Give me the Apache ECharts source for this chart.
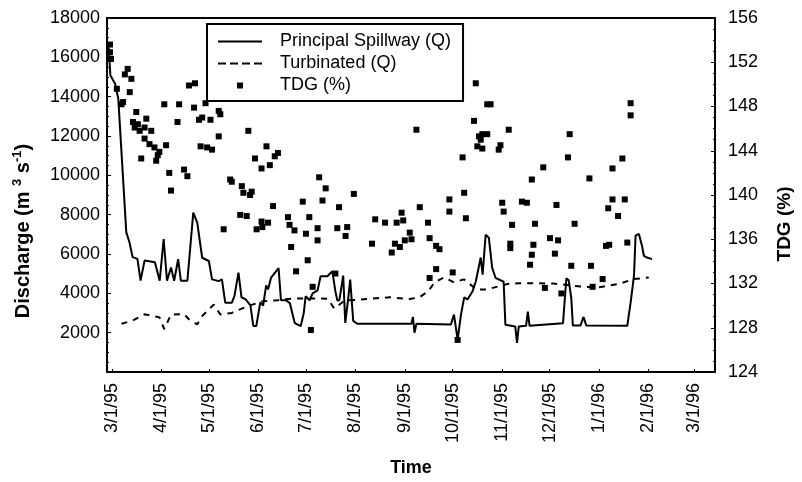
<!DOCTYPE html>
<html><head><meta charset="utf-8">
<script src="https://cdn.jsdelivr.net/npm/echarts@6/dist/echarts.min.js"></script>
<style>html,body{margin:0;padding:0;background:#fff}#c{width:802px;height:482px}</style>
</head><body><div id="c"></div>
<script>
// ---- data (x = days from 1995-03-01) ----
const monthTicks = ['1995-03-01','1995-04-01','1995-05-01','1995-06-01','1995-07-01','1995-08-01','1995-09-01','1995-10-01','1995-11-01','1995-12-01','1996-01-01','1996-02-01','1996-03-01'];

const spillDay = [-2,-1,2,4,9,11,13,16,18,20.5,27,30,32.5,34.6,37.1,39.1,41.6,43.3,47.4,51.1,53.6,56.7,60.9,62.9,67.1,69.1,71.2,75.3,77,79.5,81.4,83.9,87,88.8,90.7,93.2,95,96.9,98.1,100,104.7,106.2,109.3,111.8,114.9,118.6,120.5,121.7,124.2,126.1,129.2,131.1,135.4,138.5,140.4,141.6,142.9,145.3,146.6,148.4,149.7,151.6,154.1,188.2,189.1,190.1,191.3,213,214.9,217.2,219.3,221.3,223.4,226.5,228.6,231.7,232.9,234.8,236.8,238.9,241,246.1,247.2,253.4,254.5,255.6,260.2,261.3,262.4,283.4,285.5,287,288.6,289.6,294.4,296.3,298,323.8,325.9,328,329,331.1,333.1,334.2,336.2,339.3];
const spillQ = [16500,15090,14650,13890,7110,6600,5840,5750,4650,5665,5580,4640,6760,4640,5310,4640,5735,4640,4640,8105,7600,5810,5645,4710,4620,4710,3520,3520,3870,5050,3800,3700,3390,2340,2340,3540,3380,4400,4200,4800,5280,3650,3650,3500,2480,2330,2990,3850,3640,4000,4150,4870,4870,5120,4100,3640,3650,4900,2500,3700,4700,2600,2450,2450,2800,2000,2450,2420,2920,1650,2920,3790,3690,4090,4600,5820,4950,6980,6830,5300,4790,4590,2400,2310,1480,2310,2350,3070,2350,2480,4760,4660,3750,2370,2370,2800,2370,2355,3540,4900,6930,7020,6400,5910,5820,5740];

const turbDay = [6,13.2,20.5,29.8,32.9,37.1,45.3,48.4,53.6,56.7,64,68.1,75.3,85.7,95,104.3,113.7,135.4,139.8,146,174.7,187.1,193.2,198.6,202.8,208.7,214.9,221.1,229.2,235.1,249.1,255.5,266.9,277.2,297.3,306.2,318.6,327.9,337.3];
const turbQ = [2450,2620,2935,2780,2180,2925,2940,2680,2425,2850,3430,2925,3005,3360,3600,3650,3740,3730,3220,3625,3800,3710,3800,4100,4560,4810,4560,4710,4190,4190,4485,4515,4510,4500,4320,4310,4480,4730,4805];

const tdgDay = [-1.2,-1.2,-0.6,3.1,6,7,8.1,9.9,11.2,12.2,13.2,14.3,15.3,16.3,17.4,18.4,20.5,20.5,21.6,23.6,24.7,26.7,27.8,28.8,29.8,32.9,34,36,37.1,41.2,42.2,45.3,47.4,48.4,51.6,52.2,54.7,55.7,56.7,58.8,59.8,61.9,62.9,67.1,67.1,68.1,70.2,74.3,75.3,80.6,81.6,82.6,84.7,85.7,86.8,87.8,89.9,90.9,94,94,94.5,97.1,98.1,99.2,101.2,102.3,104.3,110.6,111.6,112.6,114.7,115.7,119.9,121.9,123,124,125,126.1,129.2,129.2,130.2,132.3,134.3,140.4,141.6,142.7,146.8,147.8,152,163.4,165.4,171.6,175.8,177.8,178.9,180.9,182,183,184,187.1,188.2,191.3,193.4,198.6,199.6,199.6,203.7,203.7,205.8,212,212,214.1,217.2,220.3,221.3,222.4,227.5,228.6,229.6,230.6,231.7,232.7,232.7,235.8,235.8,237.9,243,244.1,245.2,246.1,249.3,250.3,250.3,251.4,257.6,260.7,262.7,263.8,263.8,264.8,265.8,271,272,275.2,278.3,279.3,280.3,282.4,286.5,287.6,288.6,290.7,300,301,302,308.3,310.4,311.8,312.4,314.5,314.5,318,320.7,322.2,323.8,325.9,325.9];
const tdgPct = [153.6,152.9,152.3,149.6,148.2,148.4,150.9,151.4,149.3,150.5,146.6,146.1,147.5,146.4,145.8,143.3,146.1,145.1,146.9,144.6,145.8,144.3,143.1,143.6,143.9,148.2,144.5,142.0,140.4,146.6,148.2,142.3,141.7,149.9,147.9,150.1,146.8,144.4,147.0,148.3,144.3,146.8,144.1,147.6,145.3,147.3,136.9,141.4,141.2,138.2,140.8,140.2,138.1,145.8,140.0,140.3,143.3,136.9,142.4,137.6,137.1,144.4,137.5,142.7,139.0,143.5,143.8,138.0,137.3,135.3,136.8,133.1,139.4,136.5,134.1,138.0,127.8,131.7,137.0,135.9,141.6,139.5,140.6,132.9,137.0,138.9,136.3,137.1,140.1,135.6,137.8,137.5,134.8,135.6,137.5,135.3,138.4,137.7,135.9,136.6,136.0,145.9,138.9,137.5,136.1,132.5,135.4,133.3,135.1,139.6,138.5,133.0,126.9,143.4,140.2,137.9,146.7,150.1,144.4,145.3,145.0,145.5,144.2,148.2,145.5,148.2,144.1,144.5,139.3,138.5,145.9,135.6,135.2,137.3,139.4,139.3,133.7,141.4,134.6,135.5,137.4,142.5,131.6,136.1,134.7,139.1,135.9,131.1,143.4,145.5,133.6,137.4,141.5,133.6,131.7,132.4,135.4,138.8,135.5,142.4,139.6,138.1,143.3,139.6,135.7,148.3,147.2];

// axis settings
const qMin = 0, qMax = 18000, qStep = 2000;
const tMin = 124, tMax = 156, tStep = 4;
const xStartDay = -3.1, xEndDay = 378.9;

// ---- build ----
const base = Date.UTC(1995, 2, 1);
const DAY = 86400000;
const toT = d => base + d * DAY;
const parseDate = s => { const p = s.split('-').map(Number); return Date.UTC(p[0], p[1] - 1, p[2]); };
const monthVals = monthTicks.map(parseDate);
const zip = (a, b, f) => a.map((v, i) => [f(v), b[i]]);

const FONT = '"Liberation Sans", Arial, Helvetica, sans-serif';
const chart = echarts.init(document.getElementById('c'), null, { renderer: 'canvas' });

const fmtDate = v => { const d = new Date(v); return (d.getUTCMonth() + 1) + '/' + d.getUTCDate() + '/' + String(d.getUTCFullYear()).slice(2); };

// legend icon shapes
const ICON_SOLID = 'path://M0,0H44V2H0Z';
const ICON_DASH = 'path://M0,0H8V2H0Z M12,0H20V2H12Z M24,0H32V2H24Z M36,0H44V2H36Z';
const ICON_SQ = 'path://M0,0H6V6H0Z';

const yCommon = {
  splitLine: { show: false },
  axisLine: { show: true, lineStyle: { color: '#000', width: 2 } },
  axisTick: { show: true, inside: true, length: 4, lineStyle: { color: '#000', width: 1 } },
  minorTick: { show: true, splitNumber: 4, length: 2, lineStyle: { color: '#000', width: 1 } },
  minorSplitLine: { show: false }
};

chart.setOption({
  animation: false,
  backgroundColor: '#fff',
  textStyle: { fontFamily: FONT, color: '#000' },
  grid: { left: 107, right: 80, top: 18, bottom: 109, show: true, borderColor: '#000', borderWidth: 2 },
  legend: {
    orient: 'vertical', left: 207, top: 24,
    data: [
      { name: 'Principal Spillway (Q)', icon: ICON_SOLID },
      { name: 'Turbinated (Q)', icon: ICON_DASH },
      { name: 'TDG (%)', icon: ICON_SQ }
    ],
    itemWidth: 44, itemHeight: 6, itemGap: 3,
    padding: [8, 12, 6, 11],
    borderColor: '#000', borderWidth: 2, backgroundColor: '#fff',
    itemStyle: { color: '#000', borderWidth: 0, opacity: 1 },
    lineStyle: { width: 0 },
    textStyle: { fontSize: 18, color: '#000', fontFamily: FONT, padding: [0, 0, 0, 13], lineHeight: 19 },
    selectedMode: false
  },
  xAxis: {
    type: 'value', min: toT(xStartDay), max: toT(xEndDay),
    splitLine: { show: false },
    axisLine: { show: true, lineStyle: { color: '#000', width: 2 } },
    axisTick: { show: true, inside: true, length: 3, customValues: monthVals, lineStyle: { color: '#000' } },
    axisLabel: { rotate: 90, customValues: monthVals, formatter: fmtDate, fontSize: 18, color: '#000', margin: 11, fontFamily: FONT },
    name: 'Time', nameLocation: 'middle', nameGap: 87,
    nameTextStyle: { fontSize: 18, fontWeight: 'bold', color: '#000', fontFamily: FONT }
  },
  yAxis: [
    Object.assign({
      type: 'value', min: qMin, max: qMax, interval: qStep, position: 'left',
      axisLabel: { formatter: v => v === 0 ? '' : String(v), fontSize: 18, color: '#000', margin: 7, fontFamily: FONT },
      name: '{a|Discharge (m }{s|3}{a| s}{s|-1}{a|)}', nameLocation: 'middle', nameGap: 72,
      nameTextStyle: { color: '#000', padding: [0, 72, 0, 0],
        rich: { a: { fontSize: 20, fontWeight: 'bold', fontFamily: FONT, color: '#000', lineHeight: 24 },
                s: { fontSize: 13, fontWeight: 'bold', fontFamily: FONT, color: '#000', verticalAlign: 'top' } } }
    }, yCommon),
    Object.assign({
      type: 'value', min: tMin, max: tMax, interval: tStep, position: 'right',
      axisLabel: { fontSize: 18, color: '#000', margin: 13, fontFamily: FONT },
      name: 'TDG (%)', nameLocation: 'middle', nameGap: 60,
      nameTextStyle: { fontSize: 19, fontWeight: 'bold', color: '#000', fontFamily: FONT, padding: [0, 58, 0, 0] }
    }, yCommon)
  ],
  series: [
    { name: 'Principal Spillway (Q)', type: 'line', yAxisIndex: 0, symbol: 'none', showSymbol: false,
      data: zip(spillDay, spillQ, toT), lineStyle: { color: '#000', width: 2 }, itemStyle: { color: '#000' }, z: 3 },
    { name: 'Turbinated (Q)', type: 'line', yAxisIndex: 0, symbol: 'none', showSymbol: false,
      data: zip(turbDay, turbQ, toT), lineStyle: { color: '#000', width: 2, type: [6, 6] }, itemStyle: { color: '#000' }, z: 3 },
    { name: 'TDG (%)', type: 'scatter', yAxisIndex: 1, symbol: 'rect', symbolSize: 6,
      data: zip(tdgDay, tdgPct, toT), itemStyle: { color: '#000', opacity: 1 }, z: 2 }
  ]
});
</script>
</body></html>
